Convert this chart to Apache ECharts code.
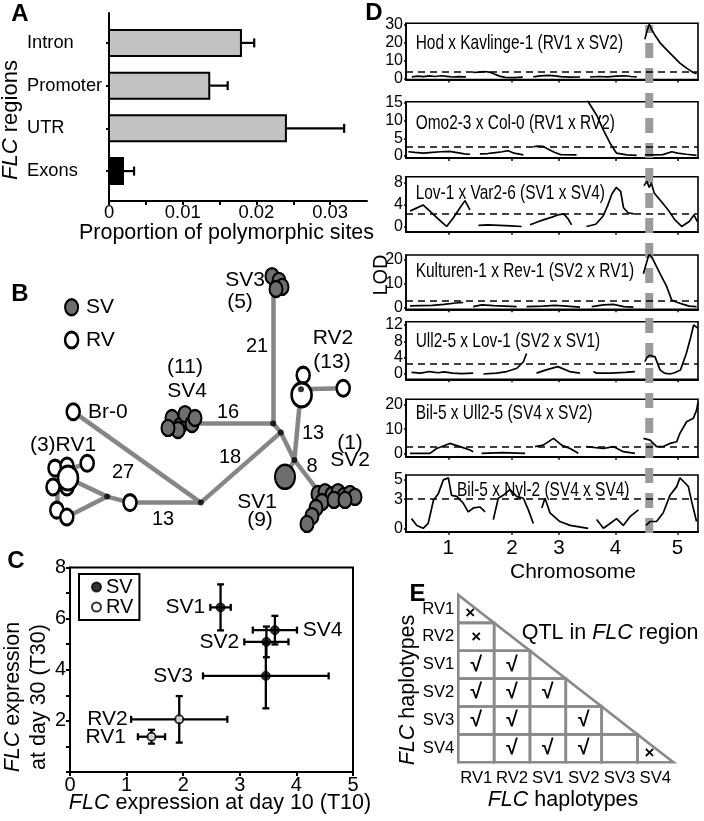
<!DOCTYPE html>
<html><head><meta charset="utf-8">
<script src="https://cdn.jsdelivr.net/npm/echarts@6/dist/echarts.min.js"></script>
<style>html,body{margin:0;padding:0;background:#fff}#c{width:704px;height:821px}</style>
</head><body><div id="c"></div>
<script>
// ================= DATA =================
// Panel A
const aCategories = ['Intron', 'Promoter', 'UTR', 'Exons'];
const aValues = [0.0179, 0.0136, 0.0240, 0.0019];
const aErrors = [0.0018, 0.0025, 0.0079, 0.0015];
const aTickLabels = [0, 0.01, 0.02, 0.03];
const aTickMarks = [0, 0.005, 0.01, 0.015, 0.02, 0.025, 0.03];

// Panel B (network layout units)
const bNodes = {
  J1: [68.3, 57.8], J2: [70.2, 60.8], J3: [50.2, 84.2], J4: [26.8, 82.2], J5: [73.6, 70.0], JR2: [75.25, 46.4],
  SV3: [68.3, 12.7], SV4: [46.7, 57.8], SV1: [71.25, 75.6], SV2: [80.0, 81.1],
  Br0: [18.3, 53.9], RVa: [32.5, 84.2], RV1big: [17.0, 76.0], RV1low: [16.7, 89.0],
  RV1v1: [14.2, 76.1], RV1v2: [14.2, 86.7], RV1a: [16.7, 73.3], RV1small: [21.8, 71.1],
  RV2top: [75.8, 41.7], RV2right: [85.8, 46.1]
};
const bJunctions = ['J1', 'J2', 'J3', 'J4', 'J5', 'JR2'];
const bEdges = [['SV3','J1'],['SV4','J1'],['J1','J2'],['J2','J3'],['J3','Br0'],['J3','RVa'],['RVa','J4'],
  ['J4','RV1big'],['J4','RV1low'],['RV1v1','RV1v2'],['RV1a','RV1small'],['J2','J5'],['J5','SV2'],['J5','SV1'],
  ['J5','JR2'],['JR2','RV2right'],['JR2','RV2top']];
const bSV = [
  [68,8.7,0],[69.75,10.3,0],[70.5,12.3,0],[69,13,0],
  [43,56,0],[45,58.7,0],[47,56.7,0],[44.5,60,0],[46.25,54.7,0],[48,58,0],[42,59.3,0],[48.75,56,0],
  [71.25,75.6,1],
  [79.5,81.3,0],[81.25,80.7,0],[83,81.7,0],[84.5,80.7,0],[86,82,0],[87.5,81.3,0],[88.75,82.3,0],
  [80.5,84,0],[79,86,0],[78,88.7,0],[76.75,91.3,0],[83.5,83.3,0],[86.25,83.3,0]
];
const bRV = [
  [18.3,53.9,0],[32.5,84.2,0],
  [13.75,72.7,0],[16.75,72,0],[21.8,71.1,0],[13.25,79,0],[16.75,79,0],[17,76,1],[14.2,86.7,0],[16.7,89,0],
  [75.8,41.7,0],[75.4,48.3,1],[85.8,46.1,0]
];
const bKeySV = [[17.9, 19.1, 0]];
const bKeyRV = [[17.9, 30.0, 0]];
const bLabels = [
  ['SV', 21.5, 19, 'left'], ['RV', 21.5, 30, 'left'],
  ['SV3', 66.25, 10, 'right'], ['(5)', 60, 17.3, 'center'], ['21', 64.25, 32.3, 'center'],
  ['RV2', 83.25, 29.3, 'center'], ['(13)', 83, 37.3, 'center'],
  ['(11)', 46.25, 39, 'center'], ['SV4', 46.75, 47, 'center'], ['16', 57, 54, 'center'],
  ['Br-0', 22, 54, 'left'], ['13', 78.25, 61, 'center'], ['18', 57.5, 69, 'center'],
  ['(1)', 87.5, 64.3, 'center'], ['8', 78, 72.3, 'center'], ['SV2', 87.5, 70, 'center'],
  ['(3)RV1', 15.75, 65, 'center'], ['27', 30.75, 74.3, 'center'], ['13', 40.75, 89.7, 'center'],
  ['SV1', 64.25, 84, 'center'], ['(9)', 65, 90, 'center']
];

// Panel C
const cGroups = ['SV1', 'SV2', 'SV3', 'SV4', 'RV1', 'RV2'];
const cT10 = [2.66, 3.47, 3.46, 3.62, 1.44, 1.93];
const cT10Err = [0.18, 0.39, 1.11, 0.39, 0.24, 0.85];
const cT30 = [6.44, 5.09, 3.76, 5.55, 1.38, 2.06];
const cT30Err = [0.90, 0.60, 1.27, 0.56, 0.27, 0.91];
const cLabelX = [2.39, 2.99, 2.17, 4.11, 0.99, 1.02];

// Panel D
const dTitles = ['Hod x Kavlinge-1 (RV1 x SV2)', 'Omo2-3 x Col-0 (RV1 x RV2)', 'Lov-1 x Var2-6 (SV1 x SV4)',
  'Kulturen-1 x Rev-1 (SV2 x RV1)', 'Ull2-5 x Lov-1 (SV2 x SV1)', 'Bil-5 x Ull2-5 (SV4 x SV2)', 'Bil-5 x Nyl-2 (SV4 x SV4)'];
const dThresholds = [3.7, 2.6, 2.4, 2.6, 2.6, 2.7, 3.0];
const dYTicks = [[0,10,20,30],[0,5,10,15],[0,4,8],[0,10,20],[0,4,8,12],[0,10,20],[0,3,5]];
const dChromLabels = ['1', '2', '3', '4', '5'];
const dChromPos = [14.5, 36.3, 52.4, 71.7, 93];
const dFLC = 83.3;
const lodHodKav = [
  [[2,0.8],[4,1.2],[6,0.9],[8,1.3],[10,1.0],[12,1.4],[14,1.1],[16,0.7],[18,0.9],[20.5,0.8]],
  [[23,3.3],[25,3.5],[27,3.8],[28.5,3.5],[30,2.5],[32,1.2],[34,0.5],[37,0.4],[40,0.6]],
  [[43.6,0.8],[46,1.3],[49,1.6],[51,1.3],[53,0.9],[56,0.6],[59.6,0.7]],
  [[63,0.7],[66,1.0],[69,0.8],[72,1.2],[75,1.4],[77,1.0],[79,0.8]],
  [[81.8,22],[82.6,27],[83.3,30.5],[84.1,27.5],[85,25],[87,20],[90.4,14.2],[93.8,8.5],[96.1,5.7],[98,3.6],[99.5,2.5]]
];
const lodOmoCol = [
  [[0.8,1.2],[3,1.0],[6,0.8],[9,1.0],[12,1.2],[15,1.3],[18,0.9],[20,0.6],[21.9,0.5]],
  [[25.3,0.6],[28,0.7],[30,0.9],[33,1.2],[35,1.5],[37,0.8],[40.2,0.3]],
  [[43.6,2.6],[45,2.8],[47,2.7],[49,1.8],[51,1.0],[53,0.4],[58.4,0.3]],
  [[61.8,16.5],[62.4,15.3],[65.3,11.5],[67.6,7.3],[69.9,3.6],[72.1,0.8],[75.6,0.3],[79,0.2]],
  [[81.8,0.3],[85,0.3],[88,0.4],[91,1.2],[93,0.8],[96,0.5],[99.5,0.2]]
];
const lodLovVar = [
  [[1.4,2.9],[3,3.3],[5.9,4.0],[8,3.0],[11,1.5],[13.9,0.1],[16,1.5],[18.5,3.5],[20.2,4.8],[21.9,3.1]],
  [[24.8,0.3],[28,0.4],[32,0.3],[36,0.2],[39.6,0.1]],
  [[42.5,0.4],[45,0.9],[47,1.3],[50,1.8],[52,2.2],[54,2.4],[55.5,1.5],[56.7,0.4]],
  [[61.8,0.1],[65,0.5],[67.5,2.0],[69,3.8],[70.5,6],[72,7.2],[73.5,6.5],[74.5,3.5],[76,2.6],[78,2.4]],
  [[81.5,7.5],[82.5,8.3],[83.3,7.2],[84,8.0],[85,6.2],[87.5,4.6],[89.8,3.1],[92.1,1.3],[94.4,0.1],[97,1.0],[98.6,2.2],[99.3,1.5],[99.8,1.0]]
];
const lodKulRev = [
  [[1.4,0.6],[5,0.7],[9,0.8],[13,1.2],[17,1.8],[19.6,2.0]],
  [[23,0.3],[26,1.0],[30,0.7],[34,0.5],[37.9,0.3]],
  [[41.3,0.3],[47,0.5],[51,0.8],[55,0.5],[59.6,0.1]],
  [[63.6,0.3],[67.6,1.0],[71,1.2],[74.6,0.3],[77.9,0.1]],
  [[81.3,14],[82,17],[83.3,22.5],[84.7,19.7],[87,14],[89.3,8.6],[91,3],[93,2],[95,1.2],[97,0.5],[99.5,0.3]]
];
const lodUllLov = [
  [[1.9,0.4],[5,0.2],[8,0.6],[11,0.3],[13,0.5],[16,0.2],[19,0.1],[23,0.2]],
  [[26.5,0],[31,0.2],[34.5,0.6],[38,1.4],[40.2,3.0],[41.3,5.0]],
  [[44.7,0.2],[48,1.0],[52,1.8],[56,0.6],[59.6,0.2]],
  [[64.2,0.6],[65.3,0.2],[70,0.2],[75,0.4],[78.4,0.6]],
  [[81.8,3],[82.5,4.0],[83.5,4.6],[85.3,4.2],[87,1.0],[88.5,0.2],[90.4,0],[92,0.3],[94,1.0],[96,5],[97.5,9],[98.5,12],[99,12.3],[99.8,11.3]]
];
const lodBilUll = [
  [[1.4,0],[4.8,0],[8.2,0],[10.5,2],[15,4.1],[18.5,2.8],[21.9,1.4],[23,0.7]],
  [[25.9,0],[33,0.3],[40.8,0]],
  [[44.2,2.8],[47,3.4],[50.5,6.2],[53.3,3.4],[56.2,2],[59,0]],
  [[61.9,2.8],[67.6,2],[71,2.8],[74.4,0.7],[78.4,0]],
  [[81.3,6.2],[83.6,5.5],[85.8,2.8],[88.1,2.8],[90.4,4.1],[92.7,4.8],[93.8,8.3],[96.1,13.1],[98.4,14.5],[99.5,17.9],[100,21]]
];
const lodBilNyl = [
  [[1.9,1.0],[3.7,0.3],[5.9,0],[7.6,0.5],[9.4,2.9],[11.1,3.6],[12.8,5.0],[14.5,5.2],[15.6,3.4],[17.4,3.3],[19.6,2.6],[21.3,1.7],[23.1,2.1],[25.3,2.2],[27.1,1.7]],
  [[29.9,0.9],[31.6,3.1],[33.3,3.4],[35.6,4.0],[37.9,3.3],[40.2,3.1],[41.9,1.9],[43.6,0.5]],
  [[46.5,2.1],[47.6,3.1],[49.3,1.6],[52.7,0.7],[56.2,0.3],[62.4,0]],
  [[65.3,0.9],[67.6,0],[69.9,0.5],[72.1,1.0],[74.4,0.3],[76.7,1.2],[79.6,1.9]],
  [[82.2,0.3],[83.6,0.7],[85.8,0.7],[88.1,1.6],[90.4,3.4],[92.7,4.3],[93.8,5.2],[95.5,4.7],[96.7,4.3],[97.8,2.8],[99.5,0.7]]
];
const dLod = [lodHodKav, lodOmoCol, lodLovVar, lodKulRev, lodUllLov, lodBilUll, lodBilNyl];

// Panel E
const eHaplotypes = ['RV1', 'RV2', 'SV1', 'SV2', 'SV3', 'SV4'];
const eQTL = [
  ['x'],
  ['x', ''],
  ['v', 'v', ''],
  ['v', 'v', 'v', ''],
  ['v', 'v', '', 'v', ''],
  ['', 'v', 'v', 'v', '', 'x']
];

// ================= FONTS =================
const ARIAL = "'Liberation Sans', Arial, Helvetica, sans-serif";
function widthOf(font) {
  const ctx = document.createElement('canvas').getContext('2d');
  ctx.font = font;
  return ctx.measureText('Kavlinge Promoter 0123456789 RV SV').width;
}
const wBase = widthOf("40px 'Liberation Sans', monospace");
const wNar = widthOf("40px 'Liberation Sans Narrow', monospace");
const wMono = widthOf('40px monospace');
const narrowOK = Math.abs(wNar - wMono) > 0.5 && wNar / wBase < 0.9;
const NARROW = narrowOK ? "'Liberation Sans Narrow', " + ARIAL : ARIAL;
function nf(size, fallbackScale) {
  const s = narrowOK ? 0.82 / (wNar / wBase) : (fallbackScale || 0.88);
  return { fontFamily: NARROW, fontSize: +(size * s).toFixed(1) };
}

// ================= BUILD =================
const grids = [], xAxes = [], yAxes = [], series = [];
function addGrid(g) { grids.push(Object.assign({ containLabel: false, outerBoundsMode: 'none' }, g)); return grids.length - 1; }
const BL = (w) => ({ color: '#000', width: w });
const KEEP = { showMinLabel: true, showMaxLabel: true, hideOverlap: false };

// ---- Panel A
const gA = addGrid({ left: 109, top: 13, width: 258, height: 188 });
const aPos = aCategories.map((c, i) => i + 0.7);
xAxes.push({ gridIndex: gA, type: 'value', min: 0, max: 0.035,
  axisLine: { show: true, onZero: false, lineStyle: BL(2) },
  axisTick: { show: true, customValues: aTickMarks, length: 4, lineStyle: BL(2) },
  axisLabel: { show: true, ...KEEP, customValues: aTickLabels, formatter: v => v === 0 ? '0' : String(v), margin: 3, color: '#000', ...nf(20, 0.92) },
  splitLine: { show: false } });
yAxes.push({ gridIndex: gA, type: 'value', min: 0, max: 4.4, inverse: true,
  axisLine: { show: true, onZero: false, lineStyle: BL(2) },
  axisTick: { show: true, customValues: aPos, length: 3, lineStyle: BL(2) },
  axisLabel: { show: true, ...KEEP, customValues: aPos, formatter: v => aCategories[Math.round(v - 0.7)], align: 'left', margin: 82, color: '#000', ...nf(21.5, 0.85) },
  splitLine: { show: false } });
series.push({ type: 'custom', xAxisIndex: gA, yAxisIndex: gA, silent: true, z: 3,
  data: aValues.map((v, i) => [v, aPos[i], aErrors[i], i]),
  renderItem: (p, api) => {
    const v = api.value(0), y = api.value(1), e = api.value(2), idx = api.value(3);
    const s = api.coord([0, y]), t = api.coord([v, y]), u = api.coord([v + e, y]);
    const h = 26;
    return { type: 'group', children: [
      { type: 'line', shape: { x1: t[0], y1: t[1], x2: u[0], y2: u[1] }, style: { stroke: '#000', lineWidth: 2.2 } },
      { type: 'line', shape: { x1: u[0], y1: u[1] - 4.5, x2: u[0], y2: u[1] + 4.5 }, style: { stroke: '#000', lineWidth: 2.2 } },
      { type: 'rect', shape: { x: s[0], y: s[1] - h / 2, width: t[0] - s[0], height: h },
        style: { fill: aCategories[idx] === 'Exons' ? '#000' : '#c2c2c2', stroke: '#000', lineWidth: 2 } }
    ] };
  } });

// ---- Panel B
const gB = addGrid({ left: 0, top: 250, width: 400, height: 300 });
xAxes.push({ gridIndex: gB, type: 'value', min: 0, max: 100, show: false });
yAxes.push({ gridIndex: gB, type: 'value', min: 0, max: 100, inverse: true, show: false });
series.push({ type: 'lines', coordinateSystem: 'cartesian2d', xAxisIndex: gB, yAxisIndex: gB, silent: true, z: 2,
  lineStyle: { color: '#868686', width: 4.5, opacity: 1 },
  data: bEdges.map(([a, b]) => ({ coords: [bNodes[a], bNodes[b]] })) });
const bSize = v => v[2] ? [20, 24] : [13, 16];
const svStyle = { color: '#6e6e6e', borderColor: '#000', borderWidth: 2.2, opacity: 1 };
const rvStyle = { color: '#fff', borderColor: '#000', borderWidth: 2.8, opacity: 1 };
series.push({ type: 'scatter', name: 'bSV', xAxisIndex: gB, yAxisIndex: gB, z: 3, silent: true, symbol: 'circle', symbolSize: bSize, itemStyle: svStyle, data: bSV.concat(bKeySV) });
series.push({ type: 'scatter', name: 'bRV', xAxisIndex: gB, yAxisIndex: gB, z: 3, silent: true, symbol: 'circle', symbolSize: bSize, itemStyle: rvStyle, data: bRV.concat(bKeyRV) });
series.push({ type: 'scatter', name: 'bJ', xAxisIndex: gB, yAxisIndex: gB, z: 4, silent: true, symbol: 'circle', symbolSize: 6, itemStyle: { color: '#000' }, data: bJunctions.map(k => bNodes[k]) });
series.push({ type: 'custom', xAxisIndex: gB, yAxisIndex: gB, z: 5, silent: true,
  data: bLabels.map(l => [l[1], l[2]]),
  renderItem: (p, api) => {
    const L = bLabels[p.dataIndex];
    const c = api.coord([api.value(0), api.value(1)]);
    const isNum = /^\d+$/.test(L[0]);
    return { type: 'text', x: c[0], y: c[1], style: { text: L[0], align: L[3], textAlign: L[3], verticalAlign: 'middle', textVerticalAlign: 'middle', fill: '#000', fontFamily: ARIAL, fontSize: isNum ? 20 : 21 } };
  } });

// ---- Panel C
const gC = addGrid({ left: 70, top: 567.5, width: 283, height: 204.5, show: true, borderColor: '#000', borderWidth: 2, backgroundColor: 'transparent' });
xAxes.push({ gridIndex: gC, type: 'value', min: 0, max: 5, interval: 1,
  axisLine: { show: true, onZero: false, lineStyle: BL(2) }, axisTick: { show: true, length: 4, lineStyle: BL(2) },
  axisLabel: { ...KEEP, margin: 3, color: '#000', fontSize: 20, fontFamily: ARIAL }, splitLine: { show: false } });
yAxes.push({ gridIndex: gC, type: 'value', min: 0, max: 8, interval: 1,
  axisLine: { show: true, onZero: false, lineStyle: BL(2) }, axisTick: { show: true, length: 4, lineStyle: BL(2) },
  axisLabel: { ...KEEP, margin: 4, color: '#000', fontSize: 20, fontFamily: ARIAL, formatter: v => (v > 0 && v % 2 === 0) ? String(v) : '' },
  splitLine: { show: false } });
series.push({ type: 'custom', xAxisIndex: gC, yAxisIndex: gC, z: 3, silent: true,
  data: cGroups.map((g, i) => [cT10[i], cT30[i], cT10Err[i], cT30Err[i], cLabelX[i]]),
  renderItem: (p, api) => {
    const x = api.value(0), y = api.value(1), ex = api.value(2), ey = api.value(3), lx = api.value(4);
    const l = api.coord([x - ex, y]), r = api.coord([x + ex, y]), t = api.coord([x, y + ey]), b = api.coord([x, y - ey]), lab = api.coord([lx, y]);
    const st = { stroke: '#000', lineWidth: 2.3 };
    const cap = 3.5;
    const ln = (x1, y1, x2, y2) => ({ type: 'line', shape: { x1, y1, x2, y2 }, style: st });
    const right = lx > x;
    return { type: 'group', children: [
      ln(l[0], l[1], r[0], r[1]), ln(t[0], t[1], b[0], b[1]),
      ln(l[0], l[1] - cap, l[0], l[1] + cap), ln(r[0], r[1] - cap, r[0], r[1] + cap),
      ln(t[0] - cap, t[1], t[0] + cap, t[1]), ln(b[0] - cap, b[1], b[0] + cap, b[1]),
      { type: 'text', x: lab[0], y: lab[1], style: { text: cGroups[p.dataIndex], align: right ? 'left' : 'right', textAlign: right ? 'left' : 'right', verticalAlign: 'middle', textVerticalAlign: 'middle', fill: '#000', fontFamily: ARIAL, fontSize: 21 } }
    ] };
  } });
const cIdx = (pre) => cGroups.map((g, i) => i).filter(i => cGroups[i].startsWith(pre));
series.push({ type: 'scatter', name: 'SV', xAxisIndex: gC, yAxisIndex: gC, z: 4, silent: true, symbol: 'circle', symbolSize: 9,
  itemStyle: { color: '#000', borderColor: '#000', borderWidth: 1 }, data: cIdx('SV').map(i => [cT10[i], cT30[i]]) });
series.push({ type: 'scatter', name: 'RV', xAxisIndex: gC, yAxisIndex: gC, z: 4, silent: true, symbol: 'circle', symbolSize: 8,
  itemStyle: { color: '#fff', borderColor: '#000', borderWidth: 2 }, data: cIdx('RV').map(i => [cT10[i], cT30[i]]) });

// ---- Panel D
const dBoxes = [
  { top: 23.3, h: 56.2, min: -0.7, max: 31 },
  { top: 101.7, h: 56.3, min: -0.56, max: 15.3 },
  { top: 176.7, h: 55, min: -0.85, max: 9.15 },
  { top: 255, h: 54.3, min: -0.83, max: 21.8 },
  { top: 321.7, h: 57.6, min: -1.3, max: 12.8 },
  { top: 399.3, h: 57.4, min: -1.4, max: 22.4 },
  { top: 475, h: 56.7, min: -0.35, max: 5.5 }
];
const dTitleY = [43, 123, 193, 271.7, 341.7, 413.3, 490];
const dTitleX = [415.7, 415.7, 415.7, 415.7, 415.7, 415.7, 457];
dBoxes.forEach((box, k) => {
  const g = addGrid({ left: 406, top: box.top, width: 292, height: box.h, show: true, borderColor: '#000', borderWidth: 1.6, backgroundColor: 'transparent' });
  xAxes.push({ gridIndex: g, type: 'value', min: 0, max: 100,
    axisLine: { show: true, onZero: false, lineStyle: BL(2.2) },
    axisTick: { show: true, customValues: dChromPos, length: 3, lineStyle: BL(1.5) },
    axisLabel: { show: k === 6, ...KEEP, customValues: dChromPos, formatter: v => dChromLabels[dChromPos.indexOf(v)], margin: 6, color: '#000', ...nf(21, 0.98) },
    splitLine: { show: false } });
  yAxes.push({ gridIndex: g, type: 'value', min: box.min, max: box.max,
    axisLine: { show: true, onZero: false, lineStyle: BL(1.6) },
    axisTick: { show: true, customValues: dYTicks[k], length: 2, lineStyle: BL(1.5) },
    axisLabel: { show: true, ...KEEP, customValues: dYTicks[k], margin: 3, color: '#000', ...nf(20, 0.8) },
    splitLine: { show: false } });
  dLod[k].forEach((seg, si) => {
    const s = { type: 'line', name: 'lod' + k + '_' + si, xAxisIndex: g, yAxisIndex: g, data: seg, showSymbol: false, symbol: 'none',
      lineStyle: { color: '#000', width: 1.7 }, z: 3, silent: true, clip: true };
    if (si === 0) s.markLine = { silent: true, symbol: 'none', label: { show: false },
      lineStyle: { color: '#000', type: [7, 5], width: 1.6 }, data: [{ yAxis: dThresholds[k] }] };
    series.push(s);
  });
});
const gF = addGrid({ left: 406, top: 25, width: 292, height: 508 });
xAxes.push({ gridIndex: gF, type: 'value', min: 0, max: 100, show: false });
yAxes.push({ gridIndex: gF, type: 'value', min: 0, max: 1, show: false });
series.push({ type: 'line', name: 'flc', xAxisIndex: gF, yAxisIndex: gF, data: [[dFLC, 0], [dFLC, 1]], showSymbol: false, symbol: 'none',
  lineStyle: { color: '#9b9b9b', width: 8, type: [15, 10] }, z: 1, silent: true });

// ---- Panel E
const gE = addGrid({ left: 458.3, top: 595, width: 215, height: 167.3 });
xAxes.push({ gridIndex: gE, type: 'category', data: eHaplotypes, axisLine: { show: false }, axisTick: { show: false },
  axisLabel: { interval: 0, ...KEEP, margin: 8, color: '#000', ...nf(18.5, 0.9) }, splitLine: { show: false } });
yAxes.push({ gridIndex: gE, type: 'category', data: eHaplotypes, inverse: true, axisLine: { show: false }, axisTick: { show: false },
  axisLabel: { interval: 0, ...KEEP, margin: 4, color: '#000', ...nf(18.5, 0.9) }, splitLine: { show: false } });
const eCells = [];
eQTL.forEach((row, i) => row.forEach((m, j) => eCells.push([j, i, m])));
series.push({ type: 'custom', xAxisIndex: gE, yAxisIndex: gE, z: 3, silent: true,
  data: eCells.map(c => [c[0], c[1]]),
  renderItem: (p, api) => {
    const [j, i, m] = eCells[p.dataIndex];
    const c = api.coord([j, i]);
    const s = api.size([1, 1]);
    const x0 = c[0] - s[0] / 2, y0 = c[1] - s[1] / 2, x1 = c[0] + s[0] / 2, y1 = c[1] + s[1] / 2;
    const diag = i === j;
    const cell = diag
      ? { type: 'polygon', shape: { points: [[x0, y0], [x0, y1], [x1, y1]] } }
      : { type: 'rect', shape: { x: x0, y: y0, width: s[0], height: s[1] } };
    cell.style = { fill: 'none', stroke: '#8a8a8a', lineWidth: 2.6 };
    const children = [cell];
    if (m) {
      const tx = diag ? x0 + s[0] / 3 : c[0];
      const ty = diag ? y0 + 2 * s[1] / 3 : c[1];
      children.push({ type: 'text', x: tx, y: ty, style: { text: m === 'v' ? '√' : '×', align: 'center', textAlign: 'center', verticalAlign: 'middle', textVerticalAlign: 'middle', fill: '#000', fontFamily: ARIAL, fontWeight: 'bold', fontSize: m === 'v' ? 21 : 17 } });
    }
    return { type: 'group', children };
  } });

// ---- Free texts
const G = [];
function T(x, y, text, o) {
  o = o || {};
  const st = Object.assign({ text, fill: '#000', fontFamily: ARIAL, fontSize: 21, align: 'center', verticalAlign: 'middle' }, o.style || {});
  st.textAlign = st.align; st.textVerticalAlign = st.verticalAlign;
  const el = { type: 'text', x, y, rotation: o.rotation || 0, silent: true, z: 100, style: st };
  if (o.scaleX) el.scaleX = o.scaleX;
  G.push(el);
}
const IT = (size) => ({ i: { fontStyle: 'italic', fontSize: size, fontFamily: ARIAL, fill: '#000' } });
const bold = { fontWeight: 'bold', fontSize: 24 };
T(20, 14, 'A', { style: bold });
T(20, 294, 'B', { style: bold });
T(16, 561, 'C', { style: bold });
T(374, 13, 'D', { style: bold });
T(417.5, 594, 'E', { style: bold });
T(226.5, 233, 'Proportion of polymorphic sites', { style: { fontSize: 21.5 } });
T(11, 120, '{i|FLC} regions', { rotation: Math.PI / 2, style: { fontSize: 22, rich: IT(22) } });
T(220, 803, '{i|FLC} expression at day 10 (T10)', { style: { fontSize: 21.5, rich: IT(21.5) } });
T(13, 697, '{i|FLC} expression', { rotation: Math.PI / 2, style: { fontSize: 21.5, rich: IT(21.5) } });
T(39, 697, 'at day 30 (T30)', { rotation: Math.PI / 2, style: { fontSize: 21.5 } });
dTitles.forEach((t, k) => T(dTitleX[k], dTitleY[k], t, { scaleX: 0.735, style: { align: 'left', fontSize: 21 } }));
T(381, 275, 'LOD', { rotation: Math.PI / 2, style: { fontSize: 20 } });
T(573, 572, 'Chromosome', { style: { fontSize: 21 } });
T(521.7, 633, 'QTL in {i|FLC} region', { style: { align: 'left', fontSize: 21.5, rich: IT(21.5) } });
T(563, 800, '{i|FLC} haplotypes', { style: { fontSize: 21.5, rich: IT(21.5) } });
T(408, 690, '{i|FLC} haplotypes', { rotation: Math.PI / 2, style: { fontSize: 21.5, rich: IT(21.5) } });

const option = {
  animation: false,
  backgroundColor: '#fff',
  textStyle: { fontFamily: ARIAL, color: '#000' },
  tooltip: { show: false },
  grid: grids, xAxis: xAxes, yAxis: yAxes, series,
  legend: { data: ['SV', 'RV'], left: 79, top: 574, orient: 'vertical', selectedMode: false,
    borderColor: '#000', borderWidth: 2, borderRadius: 0, padding: [3, 6, 3, 12], itemWidth: 9, itemHeight: 9, itemGap: 0,
    textStyle: { fontSize: 20, fontFamily: ARIAL, color: '#000' }, icon: 'circle' },
  graphic: { elements: G }
};
const chart = echarts.init(document.getElementById('c'), null, { renderer: 'canvas' });
chart.setOption(option);
</script></body></html>
